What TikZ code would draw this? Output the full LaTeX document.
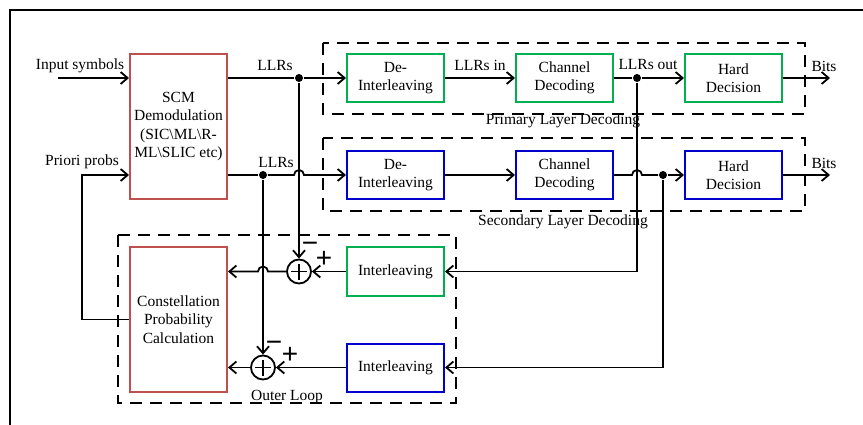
\documentclass[tikz,border=0pt]{standalone}
\usepackage{fontspec}
\setmainfont{Liberation Serif}
\newfontfamily\signfont{Liberation Sans}
\usetikzlibrary{arrows.meta}
\definecolor{scmred}{RGB}{192,80,77}
\definecolor{layergreen}{RGB}{0,176,80}
\definecolor{layerblue}{RGB}{0,0,204}
\begin{document}
\begin{tikzpicture}[x=1pt,y=-1pt,line width=1.8pt,
  font=\fontsize{15.5}{18.5}\selectfont,
  >={Straight Barb[length=7pt,width=12pt]},
  blk/.style={draw,line width=2pt,minimum width=97pt,minimum height=48pt,align=center,inner sep=1pt},
  tall/.style={blk,draw=scmred,minimum height=145pt},
  grn/.style={blk,draw=layergreen},
  blu/.style={blk,draw=layerblue},
  layer/.style={dash pattern=on 12pt off 8pt,line width=2pt},
  sign/.style={font=\signfont\fontsize{28}{28}\selectfont,inner sep=0pt},
  sum/.style={draw,circle,minimum size=24pt,inner sep=0pt,
    path picture={\draw (path picture bounding box.center) ++(-8pt,0) -- ++(16pt,0)
      (path picture bounding box.center) ++(0,-8pt) -- ++(0,16pt);}},
  dot/.style={circle,fill,inner sep=0pt,minimum size=8pt}]
  \useasboundingbox (0,0) rectangle (863,425);
  \draw[line width=2pt] (863,10) -- (10,10) -- (10,425);
  \draw[layer] (323,43) rectangle (805,114);
  \draw[layer] (323,138) rectangle (805,211);
  \draw[layer] (118,235) rectangle (456,403);
  \node (priL) at (563,121) {Primary Layer Decoding};
  \node (secL) at (563,222) {Secondary Layer Decoding};
  \node (outL) at (287,397) {Outer Loop};
  \node[tall] (scm) at (178.5,126.5) {SCM\\Demodulation\\(SIC\textbackslash ML\textbackslash R-\\ML\textbackslash SLIC etc)};
  \node[tall] (cpc) at (178.5,319.5) {Constellation\\Probability\\Calculation};
  \node[grn] (deintA) at (395.5,78) {De-\\Interleaving};
  \node[grn] (chdecA) at (564.5,78) {Channel\\Decoding};
  \node[grn] (hardA) at (733.5,78) {Hard\\Decision};
  \node[blu] (deintB) at (395.5,175) {De-\\Interleaving};
  \node[blu] (chdecB) at (564.5,175) {Channel\\Decoding};
  \node[blu] (hardB) at (733.5,175) {Hard\\Decision};
  \node[grn] (interA) at (395.5,271.5) {Interleaving};
  \node[blu] (interB) at (395.5,367.5) {Interleaving};
  \node[sum] (sumA) at (299,271.5) {};
  \node[sum] (sumB) at (263,367.5) {};
  \node[sign] (minA) at (310,247) {−};
  \node[sign] (plA) at (324,259) {+};
  \node[sign] (minB) at (274,346) {−};
  \node[sign] (plB) at (290,355) {+};
  \node[dot] (dotA) at (299,78) {};
  \node[dot] (dotB) at (263,175) {};
  \node[dot] (dotC) at (637,78) {};
  \node[dot] (dotD) at (663,175) {};
  \coordinate (inS) at (58,78);
  \coordinate (ppS) at (82,175);
  \coordinate (bitsA) at (830,78);
  \coordinate (bitsB) at (830,175);
  \node (inL) at (80,66) {Input symbols};
  \node (ppL) at (82,162) {Priori probs};
  \node (llrA) at (275,66) {LLRs};
  \node (llrB) at (276,163) {LLRs};
  \node (llrIn) at (480,65) {LLRs in};
  \node (llrOut) at (648,65) {LLRs out};
  \node (bitA) at (824,66) {Bits};
  \node (bitB) at (824,163) {Bits};
  \draw[->] (inS) -- (inS -| scm.west);
  \draw[->] (cpc.west) -- (cpc.west -| ppS) -- (ppS) -- (ppS -| scm.west);
  \draw (scm.east |- dotA) -- (dotA);
  \draw[->] (dotA) -- (deintA.west);
  \draw[->] (deintA.east) -- (chdecA.west);
  \draw (chdecA.east) -- (dotC);
  \draw[->] (dotC) -- (hardA.west);
  \draw[->] (hardA.east) -- (bitsA);
  \draw (scm.east |- dotB) -- (dotB);
  \draw[->] (dotB) -- ([xshift=-5pt]dotA |- dotB) arc[start angle=180,end angle=0,radius=5pt] -- (deintB.west);
  \draw[->] (deintB.east) -- (chdecB.west);
  \draw (chdecB.east) -- ([xshift=-5pt]dotC |- dotD) arc[start angle=180,end angle=0,radius=5pt] -- (dotD);
  \draw[->] (dotD) -- (hardB.west);
  \draw[->] (hardB.east) -- (bitsB);
  \draw[->] (dotA) -- (sumA.north);
  \draw[->] (dotB) -- (sumB.north);
  \draw[->] (dotC) -- (dotC |- interA) -- (interA.east);
  \draw[->] (dotD) -- (dotD |- interB) -- (interB.east);
  \draw[->] (interA.west) -- (sumA.east);
  \draw[->] (interB.west) -- (sumB.east);
  \draw[->] (sumA.west) -- ([xshift=5pt]dotB |- sumA) arc[start angle=0,end angle=180,radius=5pt] -- (cpc.east |- sumA);
  \draw[->] (sumB.west) -- (cpc.east |- sumB);
\end{tikzpicture}
\end{document}
